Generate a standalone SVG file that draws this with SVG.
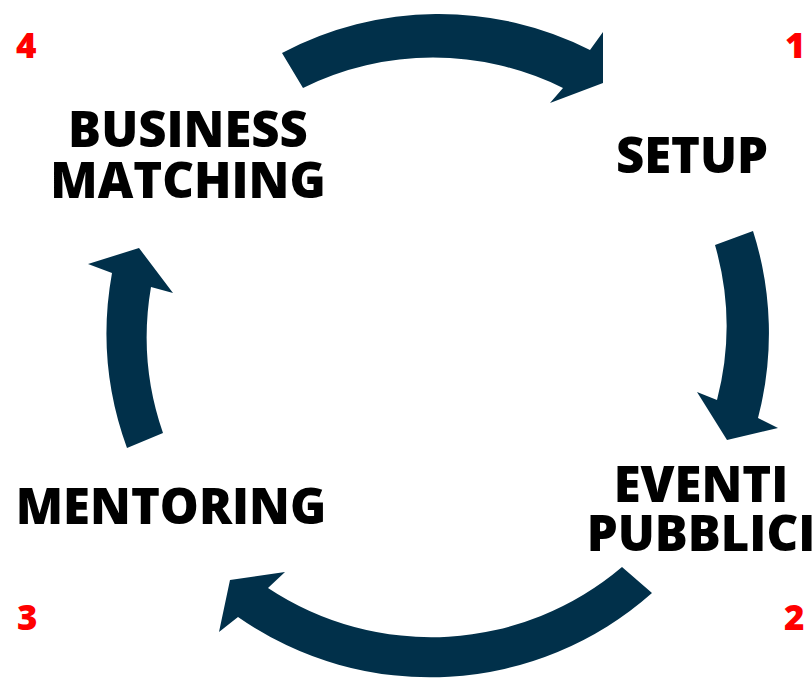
<svg xmlns="http://www.w3.org/2000/svg" width="812" height="686" viewBox="0 0 812 686">
<style>
.arrow{fill:#01304a;}
.label{font-family:"Open Sans","Liberation Sans",sans-serif;font-weight:800;font-size:49px;fill:#000;text-anchor:middle;}
.num{font-family:"Open Sans","Liberation Sans",sans-serif;font-weight:800;font-size:35px;fill:#ff0000;}
</style>
<rect width="812" height="686" fill="#ffffff"/>
<g id="connectors">
<path class="arrow" d="M282,53 A335,335 0 0 1 590,50 L603,32 L603,83 L550,103 L563,88 A293,293 0 0 0 303,88 Z"/>
<path class="arrow" d="M715,245 L753,231 A335,335 0 0 1 758,418 L778,428 L727,440 L697,392 L717,400 A293,293 0 0 0 715,245 Z"/>
<path class="arrow" d="M622,567 L652,593 A335,335 0 0 1 238,617 L219,632 L230,580 L285,572 L268,588 A295,295 0 0 0 622,567 Z"/>
<path class="arrow" d="M163,433 L127,448 A335,335 0 0 1 112,273 L88,264 L139,248 L173,293 L151,287 A293,293 0 0 0 163,433 Z"/>
</g>
<g id="node-setup">
<text class="label" x="692" y="173">SETUP</text>
<text class="num" x="785" y="58">1</text>
</g>
<g id="node-eventi">
<text class="label" x="701" y="502">EVENTI</text>
<text class="label" x="701" y="551">PUBBLICI</text>
<text class="num" x="784" y="630">2</text>
</g>
<g id="node-mentoring">
<text class="label" x="171" y="524">MENTORING</text>
<text class="num" x="17" y="630">3</text>
</g>
<g id="node-business">
<text class="label" x="188" y="147">BUSINESS</text>
<text class="label" x="188" y="198">MATCHING</text>
<text class="num" x="16" y="58">4</text>
</g>
</svg>
